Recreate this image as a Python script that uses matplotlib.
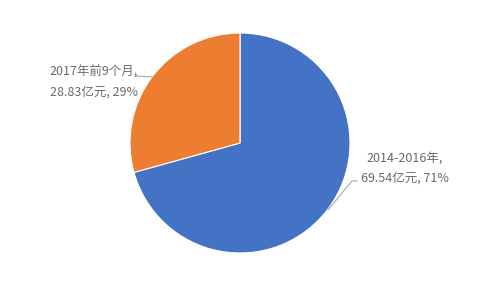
import matplotlib
matplotlib.use('Agg')
import matplotlib.pyplot as plt

plt.rcParams['font.family'] = ['Noto Sans CJK SC', 'DejaVu Sans']

# data
labels = ['2014-2016年', '2017年前9个月']
values = [69.54, 28.83]
colors = ['#4472C4', '#ED7D31']

W, H = 480, 288
cx, cy, R = 240, 143, 110  # pie centre and radius in pixels


def px(x, y):
    # pixel position -> data coords (radius 1 == R px)
    return (x - cx) / R, (cy - y) / R


fig = plt.figure(figsize=(W / 100, H / 100), dpi=100)
ax = fig.add_axes([0, 0, 1, 1])
ax.pie(values, colors=colors, startangle=90, counterclock=False,
       wedgeprops={'edgecolor': 'white', 'linewidth': 0.8})
ax.set_xlim(-cx / R, (W - cx) / R)
ax.set_ylim(-(H - cy) / R, cy / R)
ax.set_aspect('auto')
ax.axis('off')

total = sum(values)
pcts = [round(v / total * 100) for v in values]
txt = ['%s,\n%.2f亿元, %d%%' % (l, v, p) for l, v, p in zip(labels, values, pcts)]

grey = '#6A6A6A'
# right label (blue)
ax.text(*px(405, 168), txt[0], ha='center', va='center', fontsize=9,
        color=grey, linespacing=1.7, fontweight='light')
x0, y0 = px(357, 181)
x1, y1 = px(352, 181)
x2, y2 = px(328, 210)
ax.plot([x0, x1, x2], [y0, y1, y2], color='#A6A6A6', lw=0.8)

# left label (orange)
ax.text(*px(94, 82), txt[1], ha='center', va='center', fontsize=9,
        color=grey, linespacing=1.7, fontweight='light')
x0, y0 = px(136, 76)
x1, y1 = px(154, 77)
ax.plot([x0, x1], [y0, y1], color='#A6A6A6', lw=0.8)

fig.savefig('out.png', dpi=100)
